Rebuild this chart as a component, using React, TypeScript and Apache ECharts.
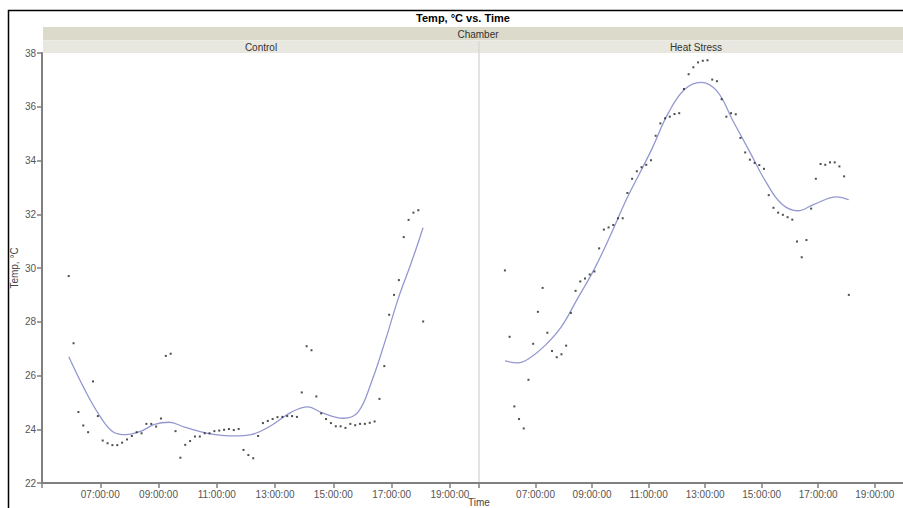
import React, { useEffect, useRef } from "react";
import * as echarts from "echarts";

const times: string[] = [
  "05:55", "06:05", "06:15", "06:25", "06:35", "06:45", "06:55", "07:05", "07:15", "07:25",
  "07:35", "07:45", "07:55", "08:05", "08:15", "08:25", "08:35", "08:45", "08:55", "09:05",
  "09:15", "09:25", "09:35", "09:45", "09:55", "10:05", "10:15", "10:25", "10:35", "10:45",
  "10:55", "11:05", "11:15", "11:25", "11:35", "11:45", "11:55", "12:05", "12:15", "12:25",
  "12:35", "12:45", "12:55", "13:05", "13:15", "13:25", "13:35", "13:45", "13:55", "14:05",
  "14:15", "14:25", "14:35", "14:45", "14:55", "15:05", "15:15", "15:25", "15:35", "15:45",
  "15:55", "16:05", "16:15", "16:25", "16:35", "16:45", "16:55", "17:05", "17:15", "17:25",
  "17:35", "17:45", "17:55", "18:05",
];

const controlTemps: number[] = [
  29.70, 27.20, 24.64, 24.14, 23.89, 25.78, 24.49, 23.58, 23.48, 23.41,
  23.41, 23.50, 23.62, 23.75, 23.89, 23.85, 24.20, 24.20, 24.10, 24.40,
  26.73, 26.81, 23.93, 22.94, 23.42, 23.56, 23.73, 23.73, 23.85, 23.85,
  23.93, 23.95, 23.98, 24.01, 23.97, 24.01, 23.23, 23.04, 22.92, 23.75,
  24.23, 24.31, 24.38, 24.45, 24.46, 24.49, 24.49, 24.46, 25.37, 27.09,
  26.94, 25.22, 24.59, 24.38, 24.23, 24.11, 24.11, 24.05, 24.20, 24.15,
  24.20, 24.20, 24.24, 24.29, 25.13, 26.35, 28.26, 29.00, 29.55, 31.15,
  31.79, 32.06, 32.15, 28.01,
];

const heatTemps: number[] = [
  29.91, 27.44, 24.85, 24.38, 24.03, 25.84, 27.18, 28.37, 29.26, 27.59,
  26.91, 26.68, 26.79, 27.11, 28.33, 29.15, 29.50, 29.61, 29.76, 29.87,
  30.73, 31.43, 31.51, 31.60, 31.85, 31.85, 32.79, 33.32, 33.60, 33.75,
  33.84, 34.01, 34.92, 35.38, 35.57, 35.63, 35.73, 35.76, 36.66, 37.21,
  37.47, 37.65, 37.71, 37.73, 37.01, 36.95, 36.28, 35.63, 35.76, 35.72,
  34.84, 34.30, 34.03, 33.91, 33.83, 33.69, 32.71, 32.24, 32.06, 31.98,
  31.89, 31.80, 30.99, 30.40, 31.04, 32.21, 33.32, 33.87, 33.84, 33.93,
  33.93, 33.78, 33.41, 29.00,
];

// Smoothed fit, hour of day -> temperature
const controlFitHours: number[] = [5.92, 6.45, 6.97, 7.43, 7.88, 8.40, 8.86, 9.37, 9.89, 10.69, 11.61, 12.18, 12.87, 13.56, 14.13, 14.60, 15.34, 15.85, 16.31, 16.77, 17.23, 17.69, 18.08];
const controlFitTemps: number[] = [26.70, 25.51, 24.52, 23.91, 23.80, 23.93, 24.18, 24.26, 24.08, 23.85, 23.75, 23.80, 24.14, 24.64, 24.83, 24.62, 24.41, 24.64, 25.76, 27.25, 28.87, 30.24, 31.50];
const heatFitHours: number[] = [5.92, 6.37, 6.77, 7.34, 7.91, 8.49, 9.06, 9.63, 10.21, 10.78, 11.13, 11.70, 12.27, 12.85, 13.42, 13.99, 14.57, 15.14, 15.71, 16.28, 16.85, 17.66, 18.08];
const heatFitTemps: number[] = [26.54, 26.47, 26.63, 27.12, 27.81, 28.87, 29.92, 31.17, 32.54, 33.72, 34.46, 35.77, 36.64, 36.91, 36.58, 35.46, 34.34, 33.22, 32.38, 32.13, 32.37, 32.65, 32.54];

const xTickHours: number[] = [5, 7, 9, 11, 13, 15, 17, 19];
const xLabelHours: number[] = [7, 9, 11, 13, 15, 17, 19];
const panels: string[] = ["Control", "Heat Stress"];

const FONT = "'Liberation Sans', Arial, sans-serif";

function toHour(t: string): number {
  const [h, m] = t.split(":").map(Number);
  return h + m / 60;
}

function fmtHour(v: number): string {
  const h = Math.round(v);
  return (h < 10 ? "0" : "") + h + ":00:00";
}

export default function App() {
  const ref = useRef<HTMLDivElement>(null);
  useEffect(() => {
    document.body.style.margin = "0";
    if (!ref.current) return;
    const chart = echarts.init(ref.current, undefined, { renderer: "svg" });
    const axisColor = "#7f7f7f";
    const makeX = (idx: number) => ({
      type: "value",
      gridIndex: idx,
      min: 5,
      max: 20,
      axisLine: { show: true, lineStyle: { color: axisColor, width: 2 } },
      axisTick: { show: true, customValues: xTickHours, length: 5, lineStyle: { color: axisColor, width: 1.5 } },
      axisLabel: {
        customValues: xLabelHours,
        formatter: (v: number) => fmtHour(v),
        color: "#555",
        fontSize: 10,
        fontFamily: FONT,
        margin: 6,
      },
      splitLine: { show: false },
    });
    const makeY = (idx: number) => ({
      type: "value",
      gridIndex: idx,
      min: 22,
      max: 38,
      interval: 2,
      show: idx === 0,
      name: idx === 0 ? "Temp, °C" : "",
      nameLocation: "middle",
      nameRotate: 90,
      nameGap: 23,
      nameTextStyle: { color: "#444", fontSize: 10, fontFamily: FONT },
      axisLine: { show: true, lineStyle: { color: axisColor, width: 2 } },
      axisTick: { show: true, length: 5, lineStyle: { color: axisColor, width: 1.5 } },
      axisLabel: { color: "#555", fontSize: 10, fontFamily: FONT, margin: 6 },
      splitLine: { show: false },
    });
    const dots = (vals: number[], idx: number) => ({
      type: "scatter",
      xAxisIndex: idx,
      yAxisIndex: idx,
      symbol: "rect",
      symbolSize: 2,
      itemStyle: { color: "#222" },
      data: times.map((t, i) => [toHour(t), vals[i]]),
      z: 3,
    });
    const fit = (hrs: number[], vals: number[], idx: number) => ({
      type: "line",
      xAxisIndex: idx,
      yAxisIndex: idx,
      smooth: 0.4,
      symbol: "none",
      lineStyle: { color: "#9498d0", width: 1.3 },
      data: hrs.map((h, i) => [h, vals[i]]),
      z: 2,
    });
    chart.setOption({
      animation: false,
      grid: [
        { left: 42, top: 53, width: 437, height: 430, show: false },
        { left: 479, top: 53, width: 434, height: 430, show: false },
      ],
      xAxis: [makeX(0), makeX(1)],
      yAxis: [makeY(0), makeY(1)],
      series: [
        fit(controlFitHours, controlFitTemps, 0),
        dots(controlTemps, 0),
        fit(heatFitHours, heatFitTemps, 1),
        dots(heatTemps, 1),
      ],
      graphic: [
        { type: "rect", z: -1, shape: { x: 8.5, y: 10.5, width: 1000, height: 600 }, style: { fill: "#fff", stroke: "#000", lineWidth: 1.5 } },
        { type: "text", x: 463, y: 18, style: { text: "Temp, °C vs. Time", fontSize: 11, fontWeight: "bold", fontFamily: FONT, fill: "#000", align: "center", verticalAlign: "middle" } },
        { type: "rect", shape: { x: 43, y: 27, width: 870, height: 13.5 }, style: { fill: "#dbdacb" } },
        { type: "text", x: 478, y: 34, style: { text: "Chamber", fontSize: 10, fontFamily: FONT, fill: "#333", align: "center", verticalAlign: "middle" } },
        { type: "rect", shape: { x: 43, y: 41, width: 870, height: 12 }, style: { fill: "#e8e8e0" } },
        { type: "text", x: 261, y: 47, style: { text: panels[0], fontSize: 10, fontFamily: FONT, fill: "#333", align: "center", verticalAlign: "middle" } },
        { type: "text", x: 696, y: 47, style: { text: panels[1], fontSize: 10, fontFamily: FONT, fill: "#333", align: "center", verticalAlign: "middle" } },
        { type: "line", shape: { x1: 479, y1: 41, x2: 479, y2: 482 }, style: { stroke: "#dadada", lineWidth: 1.5 } },
        { type: "text", x: 479, y: 497, style: { text: "Time", fontSize: 10, fontFamily: FONT, fill: "#444", align: "center", verticalAlign: "top" } },
      ],
    });
    return () => chart.dispose();
  }, []);
  return <div ref={ref} style={{ width: 903, height: 508 }} />;
}
